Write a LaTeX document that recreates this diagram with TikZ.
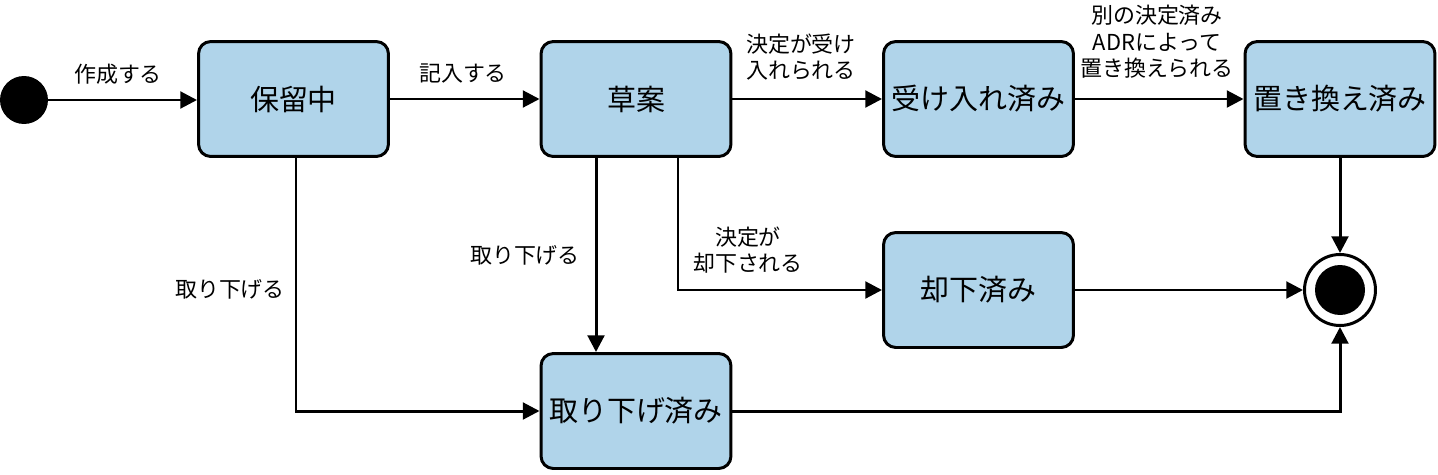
\documentclass[tikz,border=0pt]{standalone}
\usepackage{fontspec}
\setmainfont{Noto Sans CJK JP}
\usetikzlibrary{arrows.meta,calc}
\definecolor{boxfill}{HTML}{B0D4EA}
\tikzset{
  state/.style={draw=black, line width=1.7pt, fill=boxfill, rounded corners=7pt,
    minimum width=3.8cm, minimum height=2.3cm, inner sep=0pt, font=\fontsize{16.5}{19}\selectfont},
  conn/.style={line width=1.7pt, -{Triangle[length=9.5pt,width=9.5pt]}},
  lbl/.style={font=\fontsize{12.5}{15}\selectfont, align=center, inner sep=0pt},
}
\begin{document}
\begin{tikzpicture}[x=0.02cm,y=-0.02cm]
\useasboundingbox (0,0) rectangle (1438,474);
\node[circle, fill=black, minimum size=0.96cm, inner sep=0pt] (start) at (24,100) {};
\node[state] (p1) at (293.5,99) {保留中};
\node[state] (p2) at (636,99) {草案};
\node[state] (p3) at (978.5,99) {受け入れ済み};
\node[state] (p4) at (1340,99) {置き換え済み};
\node[state] (p5) at (978.5,290) {却下済み};
\node[state] (p6) at (636,411) {取り下げ済み};
\node[circle, draw=black, line width=1.7pt, fill=white, minimum size=1.42cm, inner sep=0pt] (end) at (1340,290) {};
\node[circle, fill=black, minimum size=1.0cm, inner sep=0pt] (endin) at (end.center) {};

\draw[conn] (start.east) -- (start.east -| p1.west);
\draw[conn] (p1.east) -- (p2.west);
\draw[conn] (p2.east) -- (p3.west);
\draw[conn] (p3.east) -- (p4.west);
\draw[conn] (p4.south) -- (end.north);
\draw[conn] (p5.east) -- (end.west);
\draw[conn] (p6.east) -- (p6.east -| end.south) -- (end.south);
\draw[conn] ([xshift=0.05cm]p1.south) |- (p6.west);
\draw[conn] ([xshift=-0.8cm]p2.south) -- ([xshift=-0.8cm]p2.south |- p6.north);
\draw[conn] ([xshift=0.84cm]p2.south) |- (p5.west);

\node[lbl] (l1) at (118,74) {作成する};
\node[lbl] (l2) at (463,74) {記入する};
\node[lbl] (l3) at (801,57) {決定が受け\\入れられる};
\node[lbl] (l4) at (1157,42) {別の決定済み\\ADRによって\\置き換えられる};
\node[lbl] (l5) at (230,289) {取り下げる};
\node[lbl] (l6) at (525,255) {取り下げる};
\node[lbl] (l7) at (748,250) {決定が\\却下される};
\end{tikzpicture}
\end{document}
